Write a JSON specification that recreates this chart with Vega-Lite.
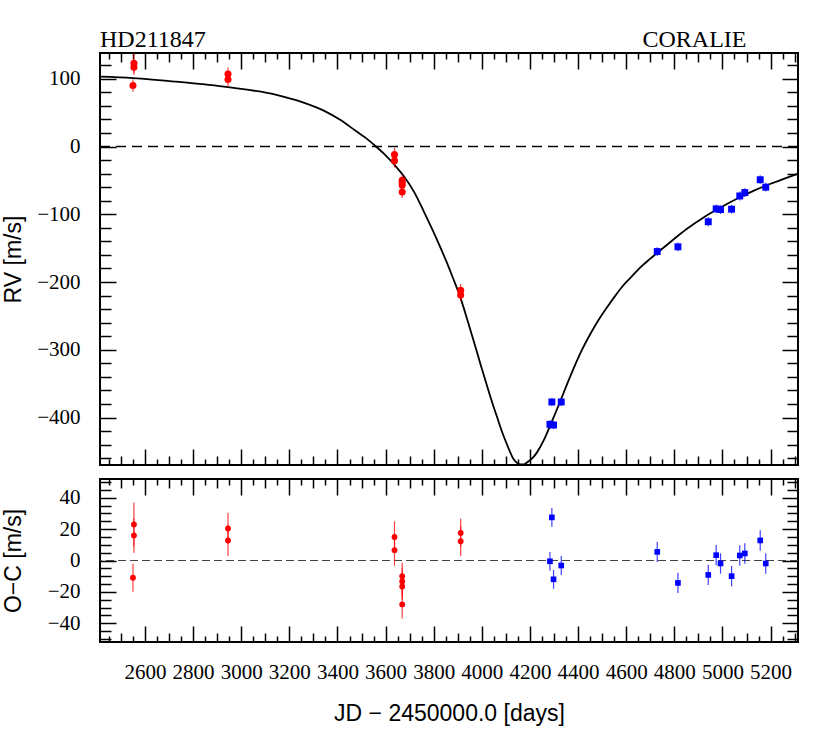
{
  "$schema": "https://vega.github.io/schema/vega-lite/v6.json",
  "background": "white",
  "padding": {"left": 1, "top": 27, "right": 30, "bottom": 10},
  "spacing": 0,
  "datasets": {
    "rv": [
      {"jd": 2554, "rv": 123, "oc": 23, "err": 14, "inst": "C98"},
      {"jd": 2554, "rv": 117, "oc": 16, "err": 11, "inst": "C98"},
      {"jd": 2550, "rv": 90, "oc": -11, "err": 9, "inst": "C98"},
      {"jd": 2945, "rv": 107, "oc": 20.4, "err": 10, "inst": "C98"},
      {"jd": 2945, "rv": 99, "oc": 12.8, "err": 10, "inst": "C98"},
      {"jd": 3637, "rv": -12, "oc": 15, "err": 10, "inst": "C98"},
      {"jd": 3637, "rv": -21, "oc": 6.6, "err": 10, "inst": "C98"},
      {"jd": 3669, "rv": -50, "oc": -10, "err": 8.5, "inst": "C98"},
      {"jd": 3669, "rv": -54, "oc": -13.4, "err": 8.5, "inst": "C98"},
      {"jd": 3669, "rv": -57, "oc": -16.6, "err": 8.5, "inst": "C98"},
      {"jd": 3669, "rv": -67, "oc": -28, "err": 9, "inst": "C98"},
      {"jd": 3912, "rv": -212, "oc": 17.6, "err": 9, "inst": "C98"},
      {"jd": 3912, "rv": -219, "oc": 12.3, "err": 9.5, "inst": "C98"},
      {"jd": 4283, "rv": -410, "oc": -0.5, "err": 6, "inst": "C07"},
      {"jd": 4291, "rv": -377, "oc": 27.5, "err": 6, "inst": "C07"},
      {"jd": 4298, "rv": -411, "oc": -12, "err": 6, "inst": "C07"},
      {"jd": 4330, "rv": -377, "oc": -3.2, "err": 6, "inst": "C07"},
      {"jd": 4729, "rv": -155, "oc": 5.5, "err": 6.5, "inst": "C07"},
      {"jd": 4815, "rv": -148, "oc": -14.3, "err": 6.5, "inst": "C07"},
      {"jd": 4941, "rv": -111, "oc": -9.2, "err": 6.5, "inst": "C07"},
      {"jd": 4974, "rv": -92, "oc": 3.4, "err": 6.5, "inst": "C07"},
      {"jd": 4992, "rv": -93, "oc": -1.9, "err": 6.5, "inst": "C07"},
      {"jd": 5038, "rv": -92.5, "oc": -10, "err": 6.5, "inst": "C07"},
      {"jd": 5072, "rv": -73, "oc": 3.2, "err": 6.5, "inst": "C07"},
      {"jd": 5093, "rv": -68, "oc": 4.5, "err": 6.5, "inst": "C07"},
      {"jd": 5157, "rv": -49, "oc": 12.8, "err": 6.5, "inst": "C07"},
      {"jd": 5180, "rv": -60, "oc": -1.9, "err": 6.5, "inst": "C07"}
    ],
    "model": [
      {"jd": 2413, "rv": 103}, {"jd": 2550, "rv": 101}, {"jd": 2750, "rv": 95},
      {"jd": 2945, "rv": 87.5}, {"jd": 3150, "rv": 76}, {"jd": 3250, "rv": 66},
      {"jd": 3343, "rv": 53}, {"jd": 3413, "rv": 39}, {"jd": 3480, "rv": 22},
      {"jd": 3520, "rv": 12}, {"jd": 3560, "rv": 0}, {"jd": 3600, "rv": -13},
      {"jd": 3637, "rv": -27}, {"jd": 3676, "rv": -44}, {"jd": 3720, "rv": -68},
      {"jd": 3759, "rv": -96}, {"jd": 3795, "rv": -123}, {"jd": 3829, "rv": -150},
      {"jd": 3853, "rv": -170}, {"jd": 3880, "rv": -194}, {"jd": 3911, "rv": -223},
      {"jd": 3940, "rv": -256}, {"jd": 3967, "rv": -288}, {"jd": 3995, "rv": -322},
      {"jd": 4023, "rv": -355}, {"jd": 4045, "rv": -380}, {"jd": 4064, "rv": -400},
      {"jd": 4085, "rv": -422}, {"jd": 4106, "rv": -441}, {"jd": 4120, "rv": -453},
      {"jd": 4133, "rv": -462}, {"jd": 4147, "rv": -467}, {"jd": 4161, "rv": -469},
      {"jd": 4175, "rv": -469}, {"jd": 4189, "rv": -466}, {"jd": 4210, "rv": -460},
      {"jd": 4230, "rv": -451}, {"jd": 4258, "rv": -433}, {"jd": 4286, "rv": -410},
      {"jd": 4305, "rv": -394}, {"jd": 4327, "rv": -375}, {"jd": 4355, "rv": -350},
      {"jd": 4382, "rv": -327}, {"jd": 4415, "rv": -301}, {"jd": 4452, "rv": -276},
      {"jd": 4485, "rv": -256}, {"jd": 4521, "rv": -237}, {"jd": 4555, "rv": -220},
      {"jd": 4590, "rv": -204}, {"jd": 4625, "rv": -191}, {"jd": 4660, "rv": -178},
      {"jd": 4695, "rv": -167}, {"jd": 4729, "rv": -157}, {"jd": 4790, "rv": -139},
      {"jd": 4854, "rv": -121}, {"jd": 4920, "rv": -105}, {"jd": 4992, "rv": -90},
      {"jd": 5060, "rv": -77}, {"jd": 5131, "rv": -65}, {"jd": 5200, "rv": -55},
      {"jd": 5269, "rv": -46}, {"jd": 5314, "rv": -40}
    ]
  },
  "vconcat": [
    {
      "width": 698,
      "height": 412,
      "resolve": {"axis": {"x": "independent", "y": "independent"}},
      "layer": [
        {
          "data": {"values": [{}]},
          "mark": {"type": "rule", "color": "black", "strokeWidth": 1.5, "strokeDash": [10, 6]},
          "encoding": {
            "y": {"datum": 0, "type": "quantitative", "scale": {"domain": [-470, 138], "nice": false, "zero": false}, "axis": null}
          }
        },
        {
          "data": {"name": "model"},
          "mark": {"type": "line", "color": "black", "strokeWidth": 1.8, "clip": true, "interpolate": "monotone"},
          "encoding": {
            "x": {
              "field": "jd", "type": "quantitative",
              "scale": {"domain": [2413, 5314], "nice": false, "zero": false},
              "axis": {
                "orient": "bottom", "labels": false, "title": null,
                "values": [2450,2500,2550,2600,2650,2700,2750,2800,2850,2900,2950,3000,3050,3100,3150,3200,3250,3300,3350,3400,3450,3500,3550,3600,3650,3700,3750,3800,3850,3900,3950,4000,4050,4100,4150,4200,4250,4300,4350,4400,4450,4500,4550,4600,4650,4700,4750,4800,4850,4900,4950,5000,5050,5100,5150,5200,5250,5300],
                "tickSize": {"condition": [{"test": "datum.value % 200 === 0", "value": -16}, {"test": "datum.value % 100 === 0", "value": -9}], "value": -6}
              }
            },
            "y": {
              "field": "rv", "type": "quantitative",
              "scale": {"domain": [-470, 138], "nice": false, "zero": false},
              "axis": {
                "orient": "left", "title": "RV [m/s]", "titlePadding": 11,
                "titleFont": "Liberation Sans", "titleFontSize": 23, "titleFontWeight": "normal",
                "values": [-460,-440,-420,-400,-380,-360,-340,-320,-300,-280,-260,-240,-220,-200,-180,-160,-140,-120,-100,-80,-60,-40,-20,0,20,40,60,80,100,120],
                "format": "d",
                "labelExpr": "datum.value % 100 === 0 ? datum.label : ''",
                "labelFont": "Liberation Serif", "labelFontSize": 21,
                "labelPadding": 36, "labelOverlap": false,
                "tickSize": {"condition": {"test": "datum.value % 100 === 0", "value": -16}, "value": -11}
              }
            }
          }
        },
        {
          "data": {"name": "rv"},
          "mark": {"type": "errorbar", "ticks": false, "thickness": 1.2, "opacity": 0.75},
          "encoding": {
            "x": {"field": "jd", "type": "quantitative", "scale": {"domain": [2413, 5314], "nice": false, "zero": false}, "axis": null},
            "y": {"field": "rv", "type": "quantitative", "scale": {"domain": [-470, 138], "nice": false, "zero": false}, "axis": null},
            "yError": {"field": "err"},
            "color": {"field": "inst", "type": "nominal", "scale": {"domain": ["C98", "C07"], "range": ["#ff0000", "#0000ff"]}, "legend": null}
          }
        },
        {
          "data": {"name": "rv"},
          "transform": [{"filter": "datum.inst === 'C98'"}],
          "mark": {"type": "point", "shape": "circle", "filled": true, "opacity": 1, "size": 50, "color": "#ff0000"},
          "encoding": {
            "x": {"field": "jd", "type": "quantitative", "scale": {"domain": [2413, 5314], "nice": false, "zero": false}, "axis": null},
            "y": {"field": "rv", "type": "quantitative", "scale": {"domain": [-470, 138], "nice": false, "zero": false}, "axis": null}
          }
        },
        {
          "data": {"name": "rv"},
          "transform": [{"filter": "datum.inst === 'C07'"}],
          "mark": {"type": "point", "shape": "square", "filled": true, "opacity": 1, "size": 48, "color": "#0000ff"},
          "encoding": {
            "x": {
              "field": "jd", "type": "quantitative",
              "scale": {"domain": [2413, 5314], "nice": false, "zero": false},
              "axis": {
                "orient": "top", "labels": false, "title": null,
                "values": [2450,2500,2550,2600,2650,2700,2750,2800,2850,2900,2950,3000,3050,3100,3150,3200,3250,3300,3350,3400,3450,3500,3550,3600,3650,3700,3750,3800,3850,3900,3950,4000,4050,4100,4150,4200,4250,4300,4350,4400,4450,4500,4550,4600,4650,4700,4750,4800,4850,4900,4950,5000,5050,5100,5150,5200,5250,5300],
                "tickSize": {"condition": [{"test": "datum.value % 200 === 0", "value": -16}, {"test": "datum.value % 100 === 0", "value": -9}], "value": -6}
              }
            },
            "y": {
              "field": "rv", "type": "quantitative",
              "scale": {"domain": [-470, 138], "nice": false, "zero": false},
              "axis": {
                "orient": "right", "labels": false, "title": null,
                "values": [-460,-440,-420,-400,-380,-360,-340,-320,-300,-280,-260,-240,-220,-200,-180,-160,-140,-120,-100,-80,-60,-40,-20,0,20,40,60,80,100,120],
                "tickSize": {"condition": {"test": "datum.value % 100 === 0", "value": -16}, "value": -11}
              }
            }
          }
        },
        {
          "data": {"values": [{"label": "HD211847"}]},
          "mark": {"type": "text", "align": "left", "baseline": "alphabetic", "dy": -6, "font": "Liberation Serif", "fontSize": 24, "color": "black"},
          "encoding": {
            "x": {"datum": 2413, "type": "quantitative", "scale": {"domain": [2413, 5314], "nice": false, "zero": false}, "axis": null},
            "y": {"datum": 138, "type": "quantitative", "scale": {"domain": [-470, 138], "nice": false, "zero": false}, "axis": null},
            "text": {"field": "label"}
          }
        },
        {
          "data": {"values": [{"label": "CORALIE"}]},
          "mark": {"type": "text", "align": "right", "baseline": "alphabetic", "dy": -6, "font": "Liberation Serif", "fontSize": 24, "color": "black"},
          "encoding": {
            "x": {"datum": 5100, "type": "quantitative", "scale": {"domain": [2413, 5314], "nice": false, "zero": false}, "axis": null},
            "y": {"datum": 138, "type": "quantitative", "scale": {"domain": [-470, 138], "nice": false, "zero": false}, "axis": null},
            "text": {"field": "label"}
          }
        }
      ]
    },
    {
      "width": 698,
      "height": 163,
      "resolve": {"axis": {"x": "independent", "y": "independent"}},
      "layer": [
        {
          "data": {"values": [{}]},
          "mark": {"type": "rule", "color": "#444444", "strokeWidth": 1.2, "strokeDash": [8, 4]},
          "encoding": {
            "y": {"datum": 0, "type": "quantitative", "scale": {"domain": [-52, 52], "nice": false, "zero": false}, "axis": null}
          }
        },
        {
          "data": {"name": "rv"},
          "mark": {"type": "errorbar", "ticks": false, "thickness": 1.2, "opacity": 0.75},
          "encoding": {
            "x": {"field": "jd", "type": "quantitative", "scale": {"domain": [2413, 5314], "nice": false, "zero": false}, "axis": null},
            "y": {"field": "oc", "type": "quantitative", "scale": {"domain": [-52, 52], "nice": false, "zero": false}, "axis": null},
            "yError": {"field": "err"},
            "color": {"field": "inst", "type": "nominal", "scale": {"domain": ["C98", "C07"], "range": ["#ff0000", "#0000ff"]}, "legend": null}
          }
        },
        {
          "data": {"name": "rv"},
          "transform": [{"filter": "datum.inst === 'C98'"}],
          "mark": {"type": "point", "shape": "circle", "filled": true, "opacity": 1, "size": 34, "color": "#ff0000"},
          "encoding": {
            "x": {
              "field": "jd", "type": "quantitative",
              "scale": {"domain": [2413, 5314], "nice": false, "zero": false},
              "axis": {
                "orient": "bottom", "title": "JD − 2450000.0 [days]", "titlePadding": 10,
                "titleFont": "Liberation Sans", "titleFontSize": 23, "titleFontWeight": "normal",
                "values": [2450,2500,2550,2600,2650,2700,2750,2800,2850,2900,2950,3000,3050,3100,3150,3200,3250,3300,3350,3400,3450,3500,3550,3600,3650,3700,3750,3800,3850,3900,3950,4000,4050,4100,4150,4200,4250,4300,4350,4400,4450,4500,4550,4600,4650,4700,4750,4800,4850,4900,4950,5000,5050,5100,5150,5200,5250,5300],
                "format": "d",
                "labelExpr": "datum.value % 200 === 0 ? datum.label : ''",
                "labelFont": "Liberation Serif", "labelFontSize": 21,
                "labelPadding": 35, "labelOverlap": false, "labelFlush": false,
                "tickSize": {"condition": [{"test": "datum.value % 200 === 0", "value": -16}, {"test": "datum.value % 100 === 0", "value": -9}], "value": -6}
              }
            },
            "y": {
              "field": "oc", "type": "quantitative",
              "scale": {"domain": [-52, 52], "nice": false, "zero": false},
              "axis": {
                "orient": "left", "title": "O−C [m/s]", "titlePadding": 21.5,
                "titleFont": "Liberation Sans", "titleFontSize": 23, "titleFontWeight": "normal",
                "values": [-50,-45,-40,-35,-30,-25,-20,-15,-10,-5,0,5,10,15,20,25,30,35,40,45,50],
                "format": "d",
                "labelExpr": "datum.value % 20 === 0 ? datum.label : ''",
                "labelFont": "Liberation Serif", "labelFontSize": 21,
                "labelPadding": 36, "labelOverlap": false,
                "tickSize": {"condition": {"test": "datum.value % 20 === 0", "value": -16}, "value": -11}
              }
            }
          }
        },
        {
          "data": {"name": "rv"},
          "transform": [{"filter": "datum.inst === 'C07'"}],
          "mark": {"type": "point", "shape": "square", "filled": true, "opacity": 1, "size": 32, "color": "#0000ff"},
          "encoding": {
            "x": {
              "field": "jd", "type": "quantitative",
              "scale": {"domain": [2413, 5314], "nice": false, "zero": false},
              "axis": {
                "orient": "top", "labels": false, "title": null,
                "values": [2450,2500,2550,2600,2650,2700,2750,2800,2850,2900,2950,3000,3050,3100,3150,3200,3250,3300,3350,3400,3450,3500,3550,3600,3650,3700,3750,3800,3850,3900,3950,4000,4050,4100,4150,4200,4250,4300,4350,4400,4450,4500,4550,4600,4650,4700,4750,4800,4850,4900,4950,5000,5050,5100,5150,5200,5250,5300],
                "tickSize": {"condition": [{"test": "datum.value % 200 === 0", "value": -16}, {"test": "datum.value % 100 === 0", "value": -9}], "value": -6}
              }
            },
            "y": {
              "field": "oc", "type": "quantitative",
              "scale": {"domain": [-52, 52], "nice": false, "zero": false},
              "axis": {
                "orient": "right", "labels": false, "title": null,
                "values": [-50,-45,-40,-35,-30,-25,-20,-15,-10,-5,0,5,10,15,20,25,30,35,40,45,50],
                "tickSize": {"condition": {"test": "datum.value % 20 === 0", "value": -16}, "value": -11}
              }
            }
          }
        }
      ]
    }
  ],
  "config": {
    "view": {"stroke": "black", "strokeWidth": 2},
    "axis": {
      "domain": false,
      "grid": false,
      "tickColor": "black",
      "tickWidth": 1.5,
      "labelFont": "Liberation Serif",
      "labelFontSize": 21,
      "labelColor": "black",
      "titleFont": "Liberation Sans",
      "titleFontSize": 23,
      "titleFontWeight": "normal",
      "titleColor": "black"
    }
  }
}
